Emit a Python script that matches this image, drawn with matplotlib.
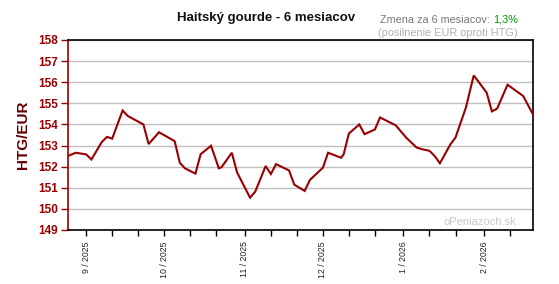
import matplotlib
matplotlib.use("Agg")
import matplotlib.pyplot as plt
import matplotlib.dates as mdates
import numpy as np

dates = ["2025-08-25", "2025-08-28", "2025-09-01", "2025-09-03", "2025-09-07", "2025-09-09",
         "2025-09-11", "2025-09-15", "2025-09-17", "2025-09-23", "2025-09-25", "2025-09-29",
         "2025-10-05", "2025-10-07", "2025-10-09", "2025-10-13", "2025-10-15", "2025-10-19",
         "2025-10-22", "2025-10-23", "2025-10-27", "2025-10-29", "2025-11-03", "2025-11-05",
         "2025-11-09", "2025-11-11", "2025-11-13", "2025-11-18", "2025-11-20", "2025-11-24",
         "2025-11-26", "2025-12-01", "2025-12-03", "2025-12-08", "2025-12-09", "2025-12-11",
         "2025-12-15", "2025-12-17", "2025-12-21", "2025-12-23", "2025-12-29", "2026-01-02",
         "2026-01-06", "2026-01-08", "2026-01-11", "2026-01-13", "2026-01-15", "2026-01-19",
         "2026-01-21", "2026-01-25", "2026-01-28", "2026-01-30", "2026-02-02", "2026-02-04",
         "2026-02-06", "2026-02-10", "2026-02-16", "2026-02-20"]
values = [152.51, 152.66, 152.58, 152.34, 153.17, 153.41,
          153.33, 154.66, 154.40, 154.00, 153.07, 153.63,
          153.21, 152.18, 151.92, 151.67, 152.59, 152.99,
          151.92, 151.97, 152.66, 151.73, 150.53, 150.82,
          152.03, 151.65, 152.12, 151.82, 151.15, 150.85,
          151.37, 151.95, 152.66, 152.42, 152.59, 153.57,
          154.00, 153.54, 153.76, 154.33, 153.96, 153.38,
          152.91, 152.83, 152.75, 152.50, 152.16, 153.05,
          153.38, 154.80, 156.32, 156.00, 155.50, 154.62,
          154.75, 155.88, 155.35, 154.43]

yticks = list(range(149, 159))
month_ticks = ["2025-09-01", "2025-10-01", "2025-11-01", "2025-12-01", "2026-01-01", "2026-02-01"]
month_labels = ["9 / 2025", "10 / 2025", "11 / 2025", "12 / 2025", "1 / 2026", "2 / 2026"]
minor_ticks = ["2025-09-11", "2025-09-21", "2025-10-11", "2025-10-21", "2025-11-11", "2025-11-21",
               "2025-12-11", "2025-12-21", "2026-01-11", "2026-01-21", "2026-02-11"]

title = "Haitský gourde - 6 mesiacov"
change_prefix = "Zmena za 6 mesiacov: "
change_value = "1,3%"
subnote = "(posilnenie EUR oproti HTG)"
ylabel = "HTG/EUR"
watermark = "oPeniazoch.sk"

plt.rcParams['font.family'] = ['Liberation Sans', 'DejaVu Sans']

fig = plt.figure(figsize=(5.59, 2.84), dpi=100)
ax = fig.add_axes([68/559, 1-230/284, (533-68)/559, (230-40)/284])

x = mdates.date2num(np.array(dates, dtype='datetime64[D]'))
ax.plot(x, values, color='#990000', lw=1.5, solid_joinstyle='miter', zorder=3)

ax.set_ylim(149, 158)
ax.set_yticks(yticks)
ax.set_yticklabels([str(v) for v in yticks], color='#990000', fontweight='bold', fontsize=8.5)
ax.yaxis.grid(True, color='#c0c0c0', lw=1)
ax.set_axisbelow(True)

x0 = mdates.date2num(np.datetime64("2025-08-25"))
x1 = mdates.date2num(np.datetime64("2026-02-19")) + 0.8
ax.set_xlim(x0, x1)
mt = mdates.date2num(np.array(month_ticks, dtype='datetime64[D]'))
ax.set_xticks(mt)
ax.set_xticklabels(month_labels, rotation=90, fontsize=6.3, color='#222222')
ax.set_xticks(mdates.date2num(np.array(minor_ticks, dtype='datetime64[D]')), minor=True)
ax.tick_params(axis='x', which='both', direction='out', length=4, color='black', width=1, pad=4)
ax.tick_params(axis='y', direction='out', length=5, color='#990000', width=1, pad=2)

for s in ['top', 'right', 'bottom']:
    ax.spines[s].set_color('black')
    ax.spines[s].set_linewidth(1.2)
ax.spines['left'].set_color('#990000')
ax.spines['left'].set_linewidth(1.2)

ax.set_ylabel(ylabel, color='#660000', fontweight='bold', fontsize=11, labelpad=6)

fig.text(266/559, 1-18/284, title, ha='center', va='center', fontsize=9.5, fontweight='bold', color='#111111')

t1 = fig.text(518/559, 1-20/284, change_value, ha='right', va='center', fontsize=7.8, color='#009900')
fig.canvas.draw()
bb = t1.get_window_extent()
fig.text(bb.x0/559, 1-20/284, change_prefix, ha='right', va='center', fontsize=7.8, color='#777777')
fig.text(518/559, 1-33/284, subnote, ha='right', va='center', fontsize=7.8, color='#b0b0b0')

ax.text(0.965, 0.015, watermark, transform=ax.transAxes, ha='right', va='bottom', fontsize=8, color='#c8c8c8')

fig.savefig("out.png", dpi=100)
